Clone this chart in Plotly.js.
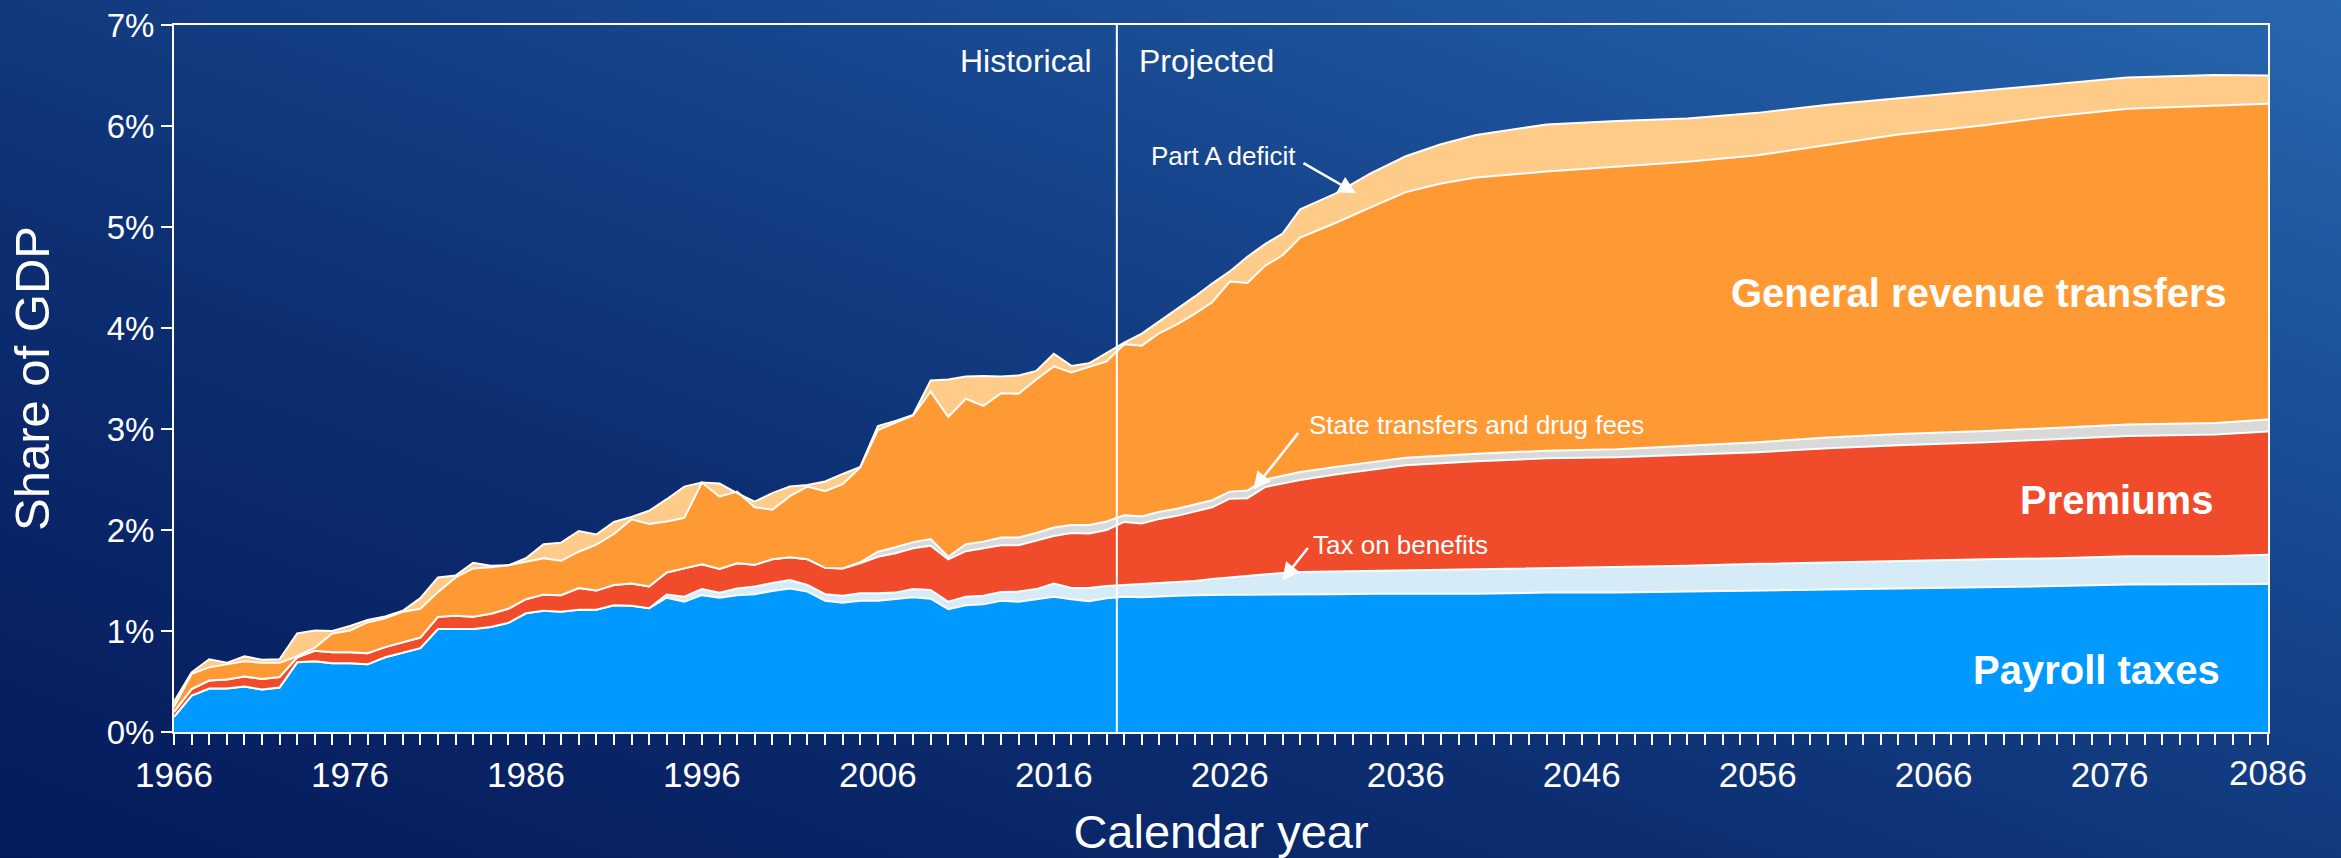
<!DOCTYPE html>
<html>
<head>
<meta charset="utf-8">
<script src="https://cdn.plot.ly/plotly-3.0.1.min.js"></script>
<style>
  html, body { margin:0; padding:0; width:2341px; height:858px; overflow:hidden;
    background: linear-gradient(to top right, #051a5a 0%, #0c2d70 35%, #184890 68%, #2767ae 100%); }
  #chart { width:2341px; height:858px; }
</style>
</head>
<body>
<div id="chart"></div>
<script>
const years = [1966,1967,1968,1969,1970,1971,1972,1973,1974,1975,1976,1977,1978,1979,1980,
  1981,1982,1983,1984,1985,1986,1987,1988,1989,1990,1991,1992,1993,1994,1995,1996,1997,1998,
  1999,2000,2001,2002,2003,2004,2005,2006,2007,2008,2009,2010,2011,2012,2013,2014,2015,2016,
  2017,2018,2019,2020,2021,2022,2023,2024,2025,2026,2027,2028,2029,2030,2032,2034,2036,2038,
  2040,2044,2048,2052,2056,2060,2064,2069,2073,2077,2082,2085];

// Income sources, % of GDP
const payrollTaxes = [0.15,0.36,0.43,0.43,0.45,0.42,0.44,0.69,0.70,0.68,0.68,0.67,0.74,0.785,0.83,
  1.02,1.02,1.02,1.04,1.08,1.175,1.20,1.19,1.21,1.21,1.255,1.25,1.225,1.33,1.29,1.355,1.33,1.355,
  1.365,1.395,1.42,1.39,1.30,1.28,1.30,1.30,1.315,1.335,1.32,1.215,1.255,1.265,1.30,1.29,1.315,1.34,
  1.315,1.295,1.325,1.34,1.335,1.345,1.35,1.355,1.36,1.36,1.36,1.36,1.365,1.365,1.365,1.37,1.37,1.37,
  1.37,1.38,1.38,1.39,1.40,1.41,1.425,1.435,1.445,1.46,1.46,1.465];

const taxOnBenefits = [0,0,0,0,0,0,0,0,0,0,0,0,0,0,0,
  0,0,0,0,0,0,0,0,0,0,0,0,0,0.03,0.05,0.06,0.05,0.065,
  0.075,0.08,0.085,0.065,0.065,0.07,0.075,0.075,0.065,0.08,0.085,0.075,0.085,0.085,0.085,0.10,0.10,0.13,
  0.11,0.13,0.12,0.115,0.13,0.13,0.135,0.14,0.155,0.17,0.19,0.205,0.21,0.22,0.225,0.225,0.235,0.24,
  0.245,0.245,0.25,0.255,0.265,0.27,0.27,0.275,0.275,0.28,0.28,0.29];

const premiums = [0.05,0.065,0.08,0.09,0.10,0.105,0.105,0.05,0.105,0.11,0.11,0.11,0.10,0.105,0.105,
  0.12,0.13,0.12,0.13,0.14,0.14,0.16,0.165,0.215,0.19,0.20,0.22,0.215,0.22,0.28,0.245,0.235,0.25,
  0.215,0.235,0.225,0.255,0.26,0.27,0.295,0.36,0.39,0.405,0.44,0.42,0.45,0.47,0.465,0.46,0.48,0.47,
  0.545,0.54,0.555,0.625,0.60,0.635,0.655,0.685,0.71,0.78,0.765,0.86,0.885,0.91,0.96,1.00,1.035,1.05,
  1.065,1.085,1.09,1.10,1.105,1.13,1.145,1.16,1.18,1.19,1.205,1.22];

const stateTransfersDrugFees = [0,0,0,0,0,0,0,0,0,0,0,0,0,0,0,
  0,0,0,0,0,0,0,0,0,0,0,0,0,0,0,0,0,0,
  0,0,0,0,0,0,0.01,0.05,0.06,0.06,0.065,0.025,0.07,0.065,0.075,0.075,0.075,0.085,
  0.08,0.085,0.085,0.065,0.07,0.07,0.07,0.07,0.07,0.07,0.075,0.075,0.075,0.08,0.075,0.075,0.075,0.075,
  0.075,0.075,0.08,0.09,0.10,0.105,0.11,0.11,0.11,0.115,0.115,0.12];

const generalRevenueTransfers = [0.05,0.15,0.13,0.15,0.15,0.16,0.14,0.01,0.03,0.185,0.215,0.305,0.285,0.30,0.285,
  0.245,0.38,0.48,0.46,0.43,0.37,0.36,0.34,0.36,0.455,0.505,0.635,0.62,0.505,0.50,0.81,0.715,0.71,
  0.57,0.49,0.605,0.72,0.76,0.835,0.94,1.205,1.235,1.255,1.46,1.385,1.44,1.345,1.43,1.425,1.52,1.595,
  1.51,1.565,1.585,1.695,1.69,1.77,1.825,1.89,1.96,2.08,2.055,2.115,2.185,2.32,2.415,2.525,2.63,2.695,
  2.735,2.765,2.80,2.81,2.84,2.895,2.965,3.03,3.09,3.125,3.14,3.125];

// Part A deficit (expenditures minus income; negative = surplus)
const partADeficit = [0.05,0.015,0.08,0.015,0.05,0.03,0.035,0.225,0.17,0.025,0.045,0.025,0.02,0.01,0.105,
  0.145,0.02,0.055,0.015,0,0.035,0.14,0.18,0.205,0.10,0.12,0.025,0.13,0.22,0.31,0,0.13,-0.015,
  0.055,0.165,0.095,0.015,0.095,0.10,0.005,0.04,0.015,0.005,0.11,0.37,0.22,0.295,0.165,0.18,0.085,0.125,
  0.065,0.035,0.085,0.015,0.12,0.115,0.15,0.17,0.185,0.10,0.26,0.215,0.215,0.28,0.29,0.335,0.355,0.39,
  0.42,0.465,0.45,0.43,0.42,0.40,0.36,0.345,0.32,0.31,0.305,0.28];

const tickYears = [1966,1976,1986,1996,2006,2016,2026,2036,2046,2056,2066,2076];
const endLabel = '2086';

const FONT = '"Liberation Sans", Arial, Helvetica, sans-serif';
const WHITE = '#ffffff';

function layer(name, y, color) {
  return { type:'scatter', mode:'lines', name:name, x:years, y:y, stackgroup:'income',
    fillcolor:color, line:{color:WHITE, width:2}, hoverinfo:'x+y+name' };
}

const traces = [
  layer('Payroll taxes', payrollTaxes, '#0099ff'),
  layer('Tax on benefits', taxOnBenefits, '#d6ebf8'),
  layer('Premiums', premiums, '#f04c2b'),
  layer('State transfers and drug fees', stateTransfersDrugFees, '#d9d9d9'),
  layer('General revenue transfers', generalRevenueTransfers, '#ff9933'),
  layer('Part A deficit', partADeficit, '#ffcb88')
];

function txt(text, x, y, size, xanchor, bold) {
  return { text: bold ? '<b>'+text+'</b>' : text, x:x, y:y, xref:'x', yref:'y',
    xanchor:xanchor, yanchor:'middle', showarrow:false,
    font:{family:FONT, size:size, color:WHITE} };
}
function arrow(x, y, ax, ay) {
  return { text:'', x:x, y:y, xref:'x', yref:'y', ax:ax, ay:ay, showarrow:true,
    arrowhead:2, arrowsize:1.4, arrowwidth:2.5, arrowcolor:WHITE, standoff:0 };
}

const layout = {
  width:2341, height:858,
  margin:{l:174, r:73, t:25, b:126, pad:0},
  paper_bgcolor:'rgba(0,0,0,0)', plot_bgcolor:'rgba(0,0,0,0)',
  font:{family:FONT, color:WHITE},
  showlegend:false,
  xaxis:{
    range:[1966,2085], tickvals:tickYears, ticktext:tickYears.map(String),
    ticks:'outside', ticklen:11, tickwidth:2, tickcolor:WHITE,
    minor:{tick0:1966, dtick:1, ticks:'outside', ticklen:11, tickwidth:2, tickcolor:WHITE},
    showline:true, linecolor:WHITE, linewidth:2, mirror:true,
    showgrid:false, zeroline:false,
    tickfont:{family:FONT, size:35, color:WHITE},
    title:{text:'Calendar year', font:{family:FONT, size:47, color:WHITE}, standoff:22}
  },
  yaxis:{
    range:[0,7], tick0:0, dtick:1, ticksuffix:'%',
    ticks:'outside', ticklen:11, tickwidth:2, tickcolor:WHITE,
    showline:true, linecolor:WHITE, linewidth:2, mirror:true,
    showgrid:false, zeroline:false,
    tickfont:{family:FONT, size:33, color:WHITE},
    title:{text:'Share of GDP', font:{family:FONT, size:49, color:WHITE}, standoff:42}
  },
  shapes:[
    {type:'line', xref:'x', yref:'y', x0:2019.58, x1:2019.58, y0:0, y1:7,
     line:{color:WHITE, width:2}}
  ],
  annotations:[
    txt('Historical', 2018.27, 6.644, 32, 'right', false),
    txt('Projected', 2020.74, 6.644, 32, 'left', false),
    txt('Part A deficit', 2021.4, 5.70, 26, 'left', false),
    arrow(2033.17, 5.334, -54, -31),
    txt('State transfers and drug fees', 2030.39, 3.04, 26, 'left', false),
    arrow(2027.34, 2.40, 46, -58),
    txt('Tax on benefits', 2030.64, 1.85, 26, 'left', false),
    arrow(2028.97, 1.50, 27, -34),
    txt('General revenue transfers', 2082.77, 4.35, 40, 'right', true),
    txt('Premiums', 2081.96, 2.30, 40, 'right', true),
    txt('Payroll taxes', 2082.4, 0.61, 40, 'right', true),
    { text:endLabel, x:1, y:0, xref:'paper', yref:'paper', xanchor:'center', yanchor:'middle',
      yshift:-40, showarrow:false, font:{family:FONT, size:35, color:WHITE} }
  ]
};

Plotly.newPlot('chart', traces, layout, {displayModeBar:false, staticPlot:true});
</script>
</body>
</html>
